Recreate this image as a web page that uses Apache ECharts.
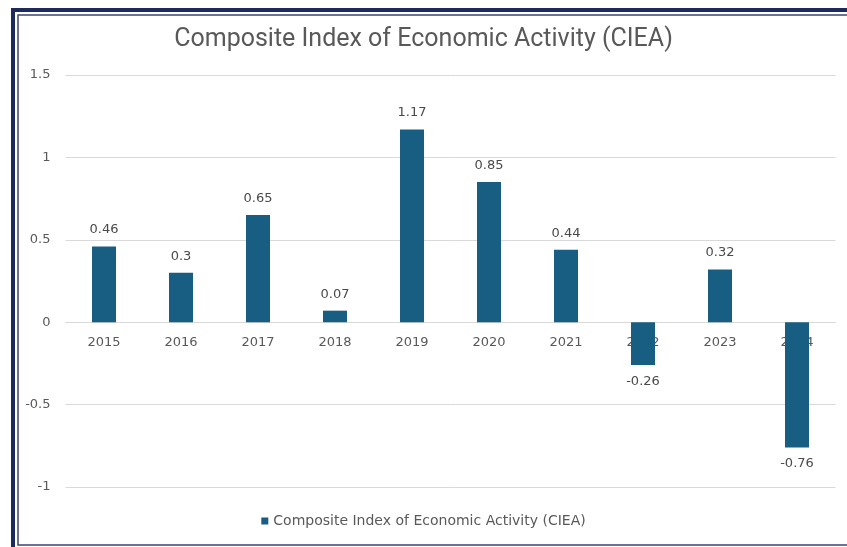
<!DOCTYPE html>
<html>
<head>
<meta charset="utf-8">
<script src="https://cdn.jsdelivr.net/npm/echarts@6/dist/echarts.min.js"></script>
<style>
html,body{margin:0;padding:0;background:#fff;}
#chart{width:847px;height:547px;}
</style>
</head>
<body>
<div id="chart"></div>
<script>
var titleText = 'Composite Index of Economic Activity (CIEA)';
var seriesName = 'Composite Index of Economic Activity (CIEA)';
var categories = ['2015','2016','2017','2018','2019','2020','2021','2022','2023','2024'];
var values = [0.46, 0.3, 0.65, 0.07, 1.17, 0.85, 0.44, -0.26, 0.32, -0.76];
var yMin = -1, yMax = 1.5, yStep = 0.5;

var gridTop = 75, gridBottom = 60, chartH = 547;
var plotH = chartH - gridTop - gridBottom;
var zeroOffset = -plotH * (0 - yMin) / (yMax - yMin);

var chart = echarts.init(document.getElementById('chart'));
chart.setOption({
  animation: false,
  backgroundColor: '#fff',
  textStyle: { fontFamily: '"DejaVu Sans", sans-serif' },
  graphic: [
    { type: 'rect', z: 100, silent: true,
      shape: { x: 13, y: 10, width: 900, height: 600 },
      style: { fill: null, stroke: '#1f2a5c', lineWidth: 4 } },
    { type: 'rect', z: 100, silent: true,
      shape: { x: 18, y: 15, width: 900, height: 530 },
      style: { fill: null, stroke: '#3a4478', lineWidth: 1.5 } }
  ],
  title: {
    text: titleText,
    left: 'center',
    top: 22,
    textStyle: { fontSize: 25, fontWeight: 'normal', color: '#595959', fontFamily: 'Roboto, sans-serif' }
  },
  legend: {
    bottom: 14,
    left: 'center',
    itemWidth: 7,
    itemHeight: 7,
    itemGap: 5,
    icon: 'rect',
    textStyle: { fontSize: 14, color: '#595959', fontFamily: '"DejaVu Sans", sans-serif' },
    data: [seriesName]
  },
  grid: { left: 65.5, right: 11.5, top: gridTop, bottom: gridBottom, containLabel: false },
  xAxis: {
    type: 'category',
    data: categories,
    z: 0,
    offset: zeroOffset,
    axisLine: { show: true, onZero: false, lineStyle: { color: '#d9d9d9' } },
    axisTick: { show: false },
    axisLabel: { color: '#595959', fontSize: 13, margin: 14 }
  },
  yAxis: {
    type: 'value',
    min: yMin,
    max: yMax,
    interval: yStep,
    axisLine: { show: false },
    axisTick: { show: false },
    splitLine: { lineStyle: { color: '#d9d9d9' } },
    axisLabel: { color: '#595959', fontSize: 13, margin: 15 }
  },
  series: [{
    name: seriesName,
    type: 'bar',
    barWidth: 24,
    z: 2,
    itemStyle: { color: '#185e82' },
    label: {
      show: true,
      color: '#4a4a4a',
      fontSize: 13,
      distance: 10,
      formatter: function (p) { return String(p.value); }
    },
    data: values.map(function (v) {
      return { value: v, label: { position: v < 0 ? 'bottom' : 'top' } };
    })
  }]
});
</script>
</body>
</html>
